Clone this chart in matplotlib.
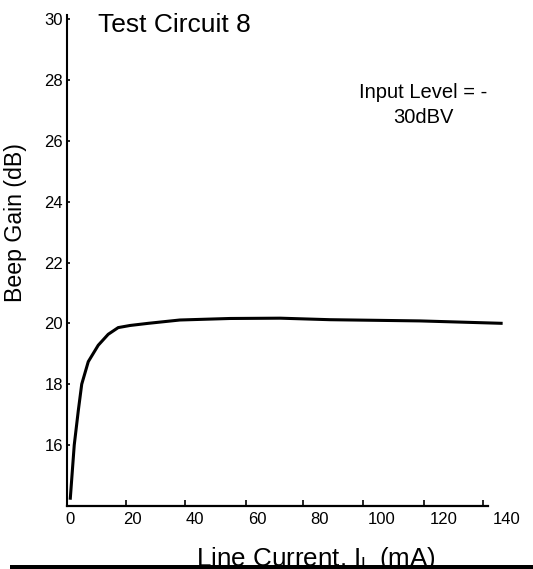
from __future__ import annotations

import matplotlib

matplotlib.use("Agg")
import matplotlib.pyplot as plt
from matplotlib.patches import Rectangle
from matplotlib.ticker import FixedLocator, NullFormatter
from matplotlib.transforms import offset_copy

# Beep gain vs line current
line_current_ma = [0.0, 1.3, 2.6, 3.7, 5.8, 9.0, 12.2, 15.4, 19.2, 25.0, 35.2, 51.3, 67.4, 83.4, 112.3, 138.8]
beep_gain_db = [14.2, 16.0, 17.13, 18.0, 18.74, 19.28, 19.64, 19.86, 19.93, 20.0, 20.11, 20.16, 20.17, 20.12, 20.08, 20.0]

x_tick_labels = [0, 20, 40, 60, 80, 100, 120, 140]
y_tick_labels = [16, 18, 20, 22, 24, 26, 28, 30]

# the little tick marks on the x axis don't sit under the labels in the original
x_tick_marks = [17.9, 36.9, 56.3, 74.7, 94.1, 113.6, 132.4]

TITLE = "Test Circuit 8"
NOTE_LINES = ["Input Level = -", "30dBV"]
FONT = ["Liberation Sans", "DejaVu Sans"]

W, H = 533, 569


def fx(px: float) -> float:
    return px / W


def fy(py: float) -> float:
    return 1.0 - py / H


def main() -> int:
    plt.rcParams["font.family"] = FONT
    plt.rcParams["mathtext.fontset"] = "custom"
    plt.rcParams["mathtext.rm"] = "Liberation Sans"
    plt.rcParams["mathtext.it"] = "Liberation Sans"

    fig = plt.figure(figsize=(W / 100, H / 100), dpi=100)
    ax = fig.add_axes((fx(67.3), fy(505.8), fx(488) - fx(67.3), (505.8 - 14.7) / H))

    ax.plot(line_current_ma, beep_gain_db, color="black", lw=2.2, clip_on=False,
            solid_joinstyle="round", solid_capstyle="butt")

    for side in ("top", "right"):
        ax.spines[side].set_visible(False)
    ax.spines["left"].set_linewidth(1.5)
    ax.spines["bottom"].set_linewidth(1.6)

    # x: only the inward marks come from the axis; the labels run past the axis end
    ax.set_xticks([])
    ax.xaxis.set_minor_locator(FixedLocator(x_tick_marks))
    ax.xaxis.set_minor_formatter(NullFormatter())
    ax.tick_params(axis="x", which="minor", direction="in", length=4, width=1.2)
    lab_tr = offset_copy(ax.get_xaxis_transform(), fig=fig, y=-4.5, units="points")
    for v in x_tick_labels:
        ax.text(v, 0, str(v), transform=lab_tr, ha="center", va="top", fontsize=12, clip_on=False)

    ax.set_yticks(y_tick_labels)
    ax.set_yticklabels([str(v) for v in y_tick_labels])
    ax.tick_params(axis="y", direction="in", length=2.5, width=1.2, pad=3.0, labelsize=12)

    ax.set_xlim(-0.93, 134.1)
    ax.set_ylim(14, 30.15)

    fig.text(fx(174.5), fy(32.3), TITLE, ha="center", va="baseline", fontsize=19)
    fig.text(fx(423), fy(98), NOTE_LINES[0], ha="center", va="baseline", fontsize=14.5)
    fig.text(fx(423), fy(123.3), NOTE_LINES[1], ha="center", va="baseline", fontsize=14.5)

    fig.text(fx(16), fy(223), "Beep Gain (dB)", rotation=90, ha="center", va="center", fontsize=16.7)
    fig.text(fx(316), fy(566), r"Line Current. I$_\mathrm{L}$ (mA)", ha="center", va="baseline",
             fontsize=18.7)

    # black rule across the bottom that cuts the x label off
    fig.add_artist(Rectangle((fx(10), 0), 1 - fx(10), 4 / H, transform=fig.transFigure,
                             facecolor="black", edgecolor="none", zorder=10))

    fig.savefig("out.png", dpi=100)
    plt.close(fig)
    return 0


if __name__ == "__main__":
    raise SystemExit(main())
